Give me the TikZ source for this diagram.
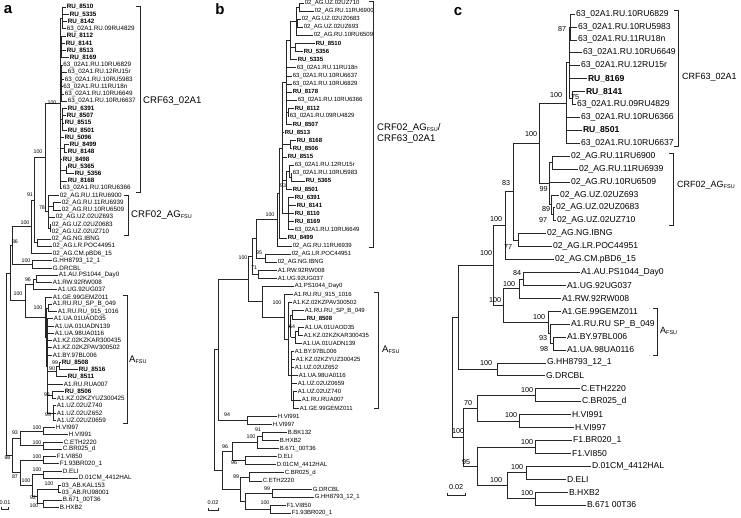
\documentclass[tikz,border=0pt]{standalone}
\usepackage{fontspec}
\setmainfont{Liberation Sans}
\newcommand\nd[3]{\draw[br] (#1,#2) -- (#1,#3);}
\newcommand\ch[3]{\draw[br] (#1,#3) -- (#2,#3);}
\newcommand\lf[5]{\draw[br] (#2,#4) -- (#3,#4); \node[leaf] (#1) at (#3,#4) {#5};}
\newcount\bsn
\newcommand\bsa[3]{\global\advance\bsn by 1\relax\node[bsla] (bs\the\bsn) at (#1,#2) {#3};}
\newcommand\bsc[3]{\global\advance\bsn by 1\relax\node[bslc] (bs\the\bsn) at (#1,#2) {#3};}
\newcommand\brk[3]{\draw[bk] (#1-4,#2) -- (#1,#2) -- (#1,#3) -- (#1-4,#3);}
\newcommand\fsu{\raisebox{-1.3pt}{\fontsize{5.5}{5}\selectfont FSU}}
\tikzset{
  br/.style={draw=black!85, line width=0.65pt},
  bk/.style={draw=black!85, line width=0.8pt},
  lfa/.style={anchor=west, inner sep=0pt, xshift=0.6pt, font=\fontsize{6.3}{6}\selectfont},
  lfb/.style={anchor=west, inner sep=0pt, xshift=0.6pt, font=\fontsize{6.0}{6}\selectfont},
  lfc/.style={anchor=west, inner sep=0pt, xshift=0.8pt, font=\fontsize{8.6}{9}\selectfont},
  bsla/.style={inner sep=0pt, font=\fontsize{5.3}{5}\selectfont},
  bslc/.style={inner sep=0pt, font=\fontsize{7.2}{7}\selectfont},
  cl/.style={anchor=west, inner sep=0pt, font=\fontsize{9.6}{11}\selectfont},
  pl/.style={inner sep=0pt, font=\fontsize{15}{15}\selectfont\bfseries},
  sb/.style={inner sep=0pt, font=\fontsize{5.5}{5}\selectfont}
}
\begin{document}
\begin{tikzpicture}[x=1pt,y=-1pt]
\path[use as bounding box] (0,0) rectangle (741,517);
\fill[white] (0,0) rectangle (741,517);

% ================= panel a =================
\begin{scope}[y={(0pt,-7.25pt)}, yshift=-7pt, leaf/.style={lfa}]
\lf{a0}{62}{66}{0}{\textbf{RU\_8510}}
\lf{a1}{62}{69}{1}{\textbf{RU\_5335}}
\lf{a2}{62}{67}{2}{\textbf{RU\_8142}}
\lf{a3}{62}{66}{3}{63\_02A1.RU.09RU4829}
\lf{a4}{61.5}{66}{4}{\textbf{RU\_8112}}
\lf{a5}{61.5}{65}{5}{\textbf{RU\_8141}}
\lf{a6}{61.5}{66}{6}{\textbf{RU\_8513}}
\lf{a7}{61.5}{69}{7}{\textbf{RU\_8169}}
\lf{a8}{61}{62.5}{8}{63\_02A1.RU.10RU6829}
\lf{a9}{61}{67}{9}{63\_02A1.RU.12RU15r}
\lf{a10}{61}{64}{10}{63\_02A1.RU.10RU5983}
\lf{a11}{61}{62.5}{11}{63\_02A1.RU.11RU18n}
\lf{a12}{61}{64}{12}{63\_02A1.RU.10RU6649}
\lf{a13}{61}{67}{13}{63\_02A1.RU.10RU6637}
\lf{a14}{62}{67}{14}{\textbf{RU\_6391}}
\lf{a15}{62}{66}{15}{\textbf{RU\_8507}}
\lf{a16}{62}{64}{16}{\textbf{RU\_8515}}
\lf{a17}{62}{67}{17}{\textbf{RU\_8501}}
\lf{a18}{60}{64}{18}{\textbf{RU\_5096}}
\lf{a19}{64}{69}{19}{\textbf{RU\_8499}}
\lf{a20}{64}{67}{20}{\textbf{RU\_8148}}
\lf{a21}{60}{62}{21}{\textbf{RU\_8498}}
\lf{a22}{66}{67}{22}{\textbf{RU\_5365}}
\lf{a23}{66}{74}{23}{\textbf{RU\_5356}}
\lf{a24}{60}{67}{24}{\textbf{RU\_8168}}
\lf{a25}{60}{62}{25}{63\_02A1.RU.10RU6366}
\lf{a26}{48}{59}{26}{02\_AG.RU.11RU6900}
\lf{a27}{53}{61}{27}{02\_AG.RU.11RU6939}
\lf{a28}{53}{61}{28}{02\_AG.RU.10RU6509}
\lf{a29}{48}{55}{29}{02\_AG.UZ.02UZ693}
\lf{a30}{50}{51}{30}{02\_AG.UZ.02UZ0683}
\lf{a31}{50}{51}{31}{02\_AG.UZ.02UZ710}
\lf{a32}{37}{51}{32}{02\_AG.NG.IBNG}
\lf{a33}{37}{52}{33}{02\_AG.LR.POC44951}
\lf{a34}{31}{52}{34}{02\_AG.CM.pBD6\_15}
\lf{a35}{32}{52}{35}{G.HH8793\_12\_1}
\lf{a36}{32}{52}{36}{G.DRCBL}
\lf{a37}{36}{58}{37}{A1.AU.PS1044\_Day0}
\lf{a38}{36}{52}{38}{A1.RW.92RW008}
\lf{a39}{33}{57}{39}{A1.UG.92UG037}
\lf{a40}{45}{52}{40}{A1.GE.99GEMZ011}
\lf{a41}{48}{52}{41}{A1.RU.RU\_SP\_B\_049}
\lf{a42}{48}{57}{42}{A1.RU.RU\_915\_1016}
\lf{a43}{47}{53}{43}{A1.UA.01UAOD35}
\lf{a44}{47}{54}{44}{A1.UA.01UADN139}
\lf{a45}{47}{54}{45}{A1.UA.98UA0116}
\lf{a46}{47}{52}{46}{A1.KZ.02KZKAR300435}
\lf{a47}{47}{52}{47}{A1.KZ.02KZPAV300502}
\lf{a48}{47}{52}{48}{A1.BY.97BL006}
\lf{a49}{59}{61}{49}{\textbf{RU\_8508}}
\lf{a50}{59}{78}{50}{\textbf{RU\_8516}}
\lf{a51}{56}{67}{51}{\textbf{RU\_8511}}
\lf{a52}{47}{63}{52}{A1.RU.RUA007}
\lf{a53}{52}{64}{53}{\textbf{RU\_8506}}
\lf{a54}{52}{56}{54}{A1.KZ.02KZYUZ300425}
\lf{a55}{53}{56}{55}{A1.UZ.02UZ740}
\lf{a56}{53}{56}{56}{A1.UZ.02UZ652}
\lf{a57}{53}{56}{57}{A1.UZ.02UZ0659}
\lf{a58}{43}{55}{58}{H.VI997}
\lf{a59}{43}{68}{59}{H.VI991}
\lf{a60}{43}{63}{60}{C.ETH2220}
\lf{a61}{43}{62}{61}{C.BR025\_d}
\lf{a62}{43}{56}{62}{F1.VI850}
\lf{a63}{43}{59}{63}{F1.93BR020\_1}
\lf{a64}{43}{62}{64}{D.ELI}
\lf{a65}{43}{78}{65}{D.01CM\_4412HAL}
\lf{a66}{58}{61}{66}{03\_AB.KAL153}
\lf{a67}{58}{61}{67}{03\_AB.RU98001}
\lf{a68}{43}{62}{68}{B.671\_00T36}
\lf{a69}{43}{59}{69}{B.HXB2}
% internal
\nd{62}{0}{3} \nd{61.5}{4}{7} \nd{61}{8}{13} \nd{62}{14}{17}
\nd{64}{19}{20} \nd{66}{22}{23}
\nd{60}{1.5}{25} \ch{60}{62}{1.5} \ch{60}{61.5}{5.5} \ch{60}{61}{10.5}
\ch{60}{62}{15.5} \ch{60}{64}{19.5} \ch{60}{66}{22.5}
\nd{53}{27}{28} \nd{50}{30}{31}
\nd{48}{26}{30.5} \ch{48}{53}{27.5} \ch{48}{50}{30.5}
\nd{45}{13.25}{28.25} \ch{45}{60}{13.25} \ch{45}{48}{28.25}
\nd{37}{32}{33}
\nd{34}{20.75}{32.5} \ch{34}{45}{20.75} \ch{34}{37}{32.5}
\nd{31}{26.625}{34} \ch{31}{34}{26.625}
\nd{32}{35}{36}
\nd{12}{30.31}{35.5} \ch{12}{31}{30.31} \ch{12}{32}{35.5}
\nd{36}{37}{38}
\nd{33}{37.5}{39} \ch{33}{36}{37.5}
\nd{48}{41}{42}
\nd{59}{49}{50}
\nd{56}{49.5}{51} \ch{56}{59}{49.5}
\nd{52}{53}{54}
\nd{53}{55}{57}
\nd{47}{43}{56} \ch{47}{56}{50.25} \ch{47}{52}{53.5} \ch{47}{53}{56}
\nd{46}{41.5}{49.5} \ch{46}{48}{41.5} \ch{46}{47}{49.5}
\nd{45}{40}{45.5} \ch{45}{46}{45.5}
\nd{25}{38.25}{42.75} \ch{25}{33}{38.25} \ch{25}{45}{42.75}
\nd{10}{32.9}{40.5} \ch{10}{12}{32.9} \ch{10}{25}{40.5}
\nd{43}{58}{59} \nd{43}{60}{61}
\nd{20}{58.5}{60.5} \ch{20}{43}{58.5} \ch{20}{43}{60.5}
\nd{43}{62}{63} \nd{43}{64}{65} \nd{58}{66}{67} \nd{43}{68}{69}
\nd{37}{66.5}{68.5} \ch{37}{58}{66.5} \ch{37}{43}{68.5}
\nd{32}{64.5}{67.5} \ch{32}{43}{64.5} \ch{32}{37}{67.5}
\nd{20}{62.5}{66} \ch{20}{43}{62.5} \ch{20}{32}{66}
\nd{12}{59.5}{64.25} \ch{12}{20}{59.5} \ch{12}{20}{64.25}
\nd{6}{36.7}{61.875} \ch{6}{10}{36.7} \ch{6}{12}{61.875}
\end{scope}
\bsa{52}{103}{100} \bsa{42}{208}{78} \bsa{38}{152}{100} \bsa{30}{195}{91}
\bsa{25}{223}{100} \bsa{15}{242}{86} \bsa{26}{261}{100} \bsa{28}{280}{96}
\bsa{18}{294}{100} \bsa{38}{308}{100} \bsa{55}{363}{99} \bsa{52}{369}{90}
\bsa{47}{395}{98} \bsa{48}{415}{99} \bsa{15}{433}{93} \bsa{37}{428}{100}
\bsa{37}{443}{100} \bsa{7.5}{458}{98} \bsa{37}{457}{100} \bsa{37}{470}{100}
\bsa{15}{477}{87} \bsa{26}{481}{100} \bsa{49}{484}{100} \bsa{33}{498}{92}
\bsa{34}{506}{100}
\brk{140}{6}{192} \node[cl] (a_crf63) at (143,101) {CRF63\_02A1};
\brk{128}{195}{235} \node[cl] (a_crf02) at (131,215) {CRF02\_AG\fsu};
\brk{127}{295}{423} \node[cl] (a_afsu) at (129,360) {A\fsu};
\draw[bk] (1,507) -- (1,509.5) -- (8,509.5) -- (8,507);
\node[sb] (a_sc) at (5,503) {0.01};
\node[pl] (lab_a) at (8,10) {a};

% ================= panel b =================
\begin{scope}[y={(0pt,-8.1pt)}, yshift=-3pt, leaf/.style={lfb}]
\lf{b0}{299}{304}{0}{02\_AG.UZ.02UZ710}
\lf{b1}{299}{314}{1}{02\_AG.RU.11RU6900}
\lf{b2}{297}{301}{2}{02\_AG.UZ.02UZ0683}
\lf{b3}{297}{303}{3}{02\_AG.UZ.02UZ693}
\lf{b4}{296}{313}{4}{02\_AG.RU.10RU6509}
\lf{b5}{295}{315}{5}{\textbf{RU\_8510}}
\lf{b6}{295}{303}{6}{\textbf{RU\_5356}}
\lf{b7}{290}{297}{7}{\textbf{RU\_5335}}
\lf{b8}{286}{296}{8}{63\_02A1.RU.11RU18n}
\lf{b9}{286}{292}{9}{63\_02A1.RU.10RU6637}
\lf{b10}{286}{292}{10}{63\_02A1.RU.10RU6829}
\lf{b11}{286}{292}{11}{\textbf{RU\_8178}}
\lf{b12}{286}{297}{12}{63\_02A1.RU.10RU6366}
\lf{b13}{288}{294}{13}{\textbf{RU\_8112}}
\lf{b14}{288}{289}{14}{63\_02A1.RU.09RU4829}
\lf{b15}{286}{292}{15}{\textbf{RU\_8507}}
\lf{b16}{282}{284}{16}{\textbf{RU\_8513}}
\lf{b17}{290}{296}{17}{\textbf{RU\_8168}}
\lf{b18}{290}{292}{18}{\textbf{RU\_8506}}
\lf{b19}{282}{287}{19}{\textbf{RU\_8515}}
\lf{b20}{289}{294}{20}{63\_02A1.RU.12RU15r}
\lf{b21}{291}{292}{21}{63\_02A1.RU.10RU5983}
\lf{b22}{291}{305}{22}{\textbf{RU\_5365}}
\lf{b23}{286}{292}{23}{\textbf{RU\_8501}}
\lf{b24}{288}{294}{24}{\textbf{RU\_6391}}
\lf{b25}{288}{296}{25}{\textbf{RU\_8141}}
\lf{b26}{288}{294}{26}{\textbf{RU\_8110}}
\lf{b27}{288}{294}{27}{\textbf{RU\_8169}}
\lf{b28}{288}{294}{28}{63\_02A1.RU.10RU6649}
\lf{b29}{279}{287}{29}{\textbf{RU\_8499}}
\lf{b30}{277}{292}{30}{02\_AG.RU.11RU6939}
\lf{b31}{265}{291}{31}{02\_AG.LR.POC44951}
\lf{b32}{265}{277}{32}{02\_AG.NG.IBNG}
\lf{b33}{258}{277}{33}{A1.RW.92RW008}
\lf{b34}{258}{277}{34}{A1.UG.92UG037}
\lf{b35}{262}{294}{35}{A1.PS1044\_Day0}
\lf{b36}{284}{293}{36}{A1.RU.RU\_915\_1016}
\lf{b37}{288}{292}{37}{A1.KZ.02KZPAV300502}
\lf{b38}{292}{304}{38}{A1.RU.RU\_SP\_B\_049}
\lf{b39}{292}{306}{39}{\textbf{RU\_8508}}
\lf{b40}{298}{304}{40}{A1.UA.01UAOD35}
\lf{b41}{298}{303}{41}{A1.KZ.02KZKAR300435}
\lf{b42}{295}{302}{42}{A1.UA.01UADN139}
\lf{b43}{291}{294}{43}{A1.BY.97BL006}
\lf{b44}{291}{295}{44}{A1.KZ.02KZYUZ300425}
\lf{b45}{291}{294}{45}{A1.UZ.02UZ652}
\lf{b46}{291}{298}{46}{A1.UA.98UA0116}
\lf{b47}{291}{297}{47}{A1.UZ.02UZ0659}
\lf{b48}{293}{297}{48}{A1.UZ.02UZ740}
\lf{b49}{293}{301}{49}{A1.RU.RUA007}
\lf{b50}{293}{299}{50}{A1.GE.99GEMZ011}
\lf{b51}{247}{277}{51}{H.VI991}
\lf{b52}{247}{272}{52}{H.VI997}
\lf{b53}{262}{287}{53}{B.BK132}
\lf{b54}{262}{279}{54}{B.HXB2}
\lf{b55}{257}{279}{55}{B.671\_00T36}
\lf{b56}{245}{277}{56}{D.ELI}
\lf{b57}{245}{276}{57}{D.01CM\_4412HAL}
\lf{b58}{249}{284}{58}{C.BR025\_d}
\lf{b59}{249}{262}{59}{C.ETH2220}
\lf{b60}{272}{312}{60}{G.DRCBL}
\lf{b61}{272}{314}{61}{G.HH8793\_12\_1}
\lf{b62}{270}{286}{62}{F1.VI850}
\lf{b63}{270}{291}{63}{F1.93BR020\_1}
% internal
\nd{299}{0}{1} \nd{297}{2}{3}
\nd{296}{0.5}{4} \ch{296}{299}{0.5} \ch{296}{297}{2.5}
\nd{295}{5}{6}
\nd{290}{2.25}{7} \ch{290}{296}{2.25} \ch{290}{295}{5.5}
\nd{288}{13}{14}
\nd{286}{4.625}{15} \ch{286}{290}{4.625} \ch{286}{288}{13.5}
\nd{290}{17}{18} \nd{291}{21}{22}
\nd{289}{20}{21.5} \ch{289}{291}{21.5}
\nd{286}{20.75}{23} \ch{286}{289}{20.75}
\nd{288}{24}{28}
\nd{282}{9.8125}{26} \ch{282}{286}{9.8125} \ch{282}{290}{17.5} \ch{282}{286}{21.875} \ch{282}{288}{26}
\nd{279}{17.9}{29} \ch{279}{282}{17.9}
\nd{277}{23.45}{30} \ch{277}{279}{23.45}
\nd{265}{31}{32}
\nd{256}{26.725}{31.5} \ch{256}{277}{26.725} \ch{256}{265}{31.5}
\nd{258}{33}{34}
\nd{252}{29.11}{33.5} \ch{252}{256}{29.11} \ch{252}{258}{33.5}
\nd{292}{38}{39} \nd{298}{40}{41}
\nd{295}{40.5}{42} \ch{295}{298}{40.5}
\nd{290.5}{38.5}{41.25} \ch{290.5}{292}{38.5} \ch{290.5}{295}{41.25}
\nd{293}{48}{50}
\nd{291}{43}{49} \ch{291}{293}{49}
\nd{288}{37}{46} \ch{288}{290.5}{39.875} \ch{288}{291}{46}
\nd{284}{36}{41.5} \ch{284}{288}{41.5}
\nd{262}{35}{38.75} \ch{262}{284}{38.75}
\nd{248}{31.3}{36.875} \ch{248}{252}{31.3} \ch{248}{262}{36.875}
\nd{247}{51}{52}
\nd{218}{34.09}{51.5} \ch{218}{248}{34.09} \ch{218}{247}{51.5}
\nd{262}{53}{54}
\nd{257}{53.5}{55} \ch{257}{262}{53.5}
\nd{245}{56}{57}
\nd{232}{54.25}{56.5} \ch{232}{257}{54.25} \ch{232}{245}{56.5}
\nd{249}{58}{59} \nd{272}{60}{61} \nd{270}{62}{63}
\nd{245}{60.5}{62.5} \ch{245}{272}{60.5} \ch{245}{270}{62.5}
\nd{240}{58.5}{61.5} \ch{240}{249}{58.5} \ch{240}{245}{61.5}
\nd{222}{55.375}{60} \ch{222}{232}{55.375} \ch{222}{240}{60}
\nd{214}{42.8}{57.69} \ch{214}{218}{42.8} \ch{214}{222}{57.69}
\end{scope}
\bsa{270}{215}{100} \bsa{283}{186}{93} \bsa{259}{253}{95} \bsa{243}{258}{100}
\bsa{254}{268}{71} \bsa{277}{303}{100} \bsa{292}{327}{64} \bsa{227}{415}{94}
\bsa{258}{430}{91} \bsa{251}{437}{100} \bsa{225}{447}{96} \bsa{234}{463}{96}
\bsa{236}{477}{99} \bsa{267}{488.5}{99} \bsa{265}{503}{100}
\brk{373}{1}{247}
\node[cl, align=left] (b_crf) at (377,133) {CRF02\_AG\fsu/\\CRF63\_02A1};
\brk{378}{292}{408} \node[cl] (b_afsu) at (382,350) {A\fsu};
\draw[bk] (208,508) -- (208,510.5) -- (218,510.5) -- (218,508);
\node[sb] (b_sc) at (213,503) {0.02};
\node[pl] (lab_b) at (220,9) {b};

% ================= panel c =================
\begin{scope}[y={(0pt,-12.92pt)}, yshift=-14pt, leaf/.style={lfc}]
\lf{c0}{570}{575}{0}{63\_02A1.RU.10RU6829}
\lf{c1}{570}{577}{1}{63\_02A1.RU.10RU5983}
\lf{c2}{570}{577}{2}{63\_02A1.RU.11RU18n}
\lf{c3}{569}{582}{3}{63\_02A1.RU.10RU6649}
\lf{c4}{569}{580}{4}{63\_02A1.RU.12RU15r}
\lf{c5}{569}{587}{5}{\textbf{RU\_8169}}
\lf{c6}{572}{585}{6}{\textbf{RU\_8141}}
\lf{c7}{572}{576}{7}{63\_02A1.RU.09RU4829}
\lf{c8}{566}{580}{8}{63\_02A1.RU.10RU6366}
\lf{c9}{566}{582}{9}{\textbf{RU\_8501}}
\lf{c10}{566}{580}{10}{63\_02A1.RU.10RU6637}
\lf{c11}{552}{570}{11}{02\_AG.RU.11RU6900}
\lf{c12}{552}{578}{12}{02\_AG.RU.11RU6939}
\lf{c13}{549}{570}{13}{02\_AG.RU.10RU6509}
\lf{c14}{551}{559}{14}{02\_AG.UZ.02UZ693}
\lf{c15}{553}{555}{15}{02\_AG.UZ.02UZ0683}
\lf{c16}{553}{556}{16}{02\_AG.UZ.02UZ710}
\lf{c17}{518}{546}{17}{02\_AG.NG.IBNG}
\lf{c18}{518}{552}{18}{02\_AG.LR.POC44951}
\lf{c19}{505}{554}{19}{02\_AG.CM.pBD6\_15}
\lf{c20}{523}{580}{20}{A1.AU.PS1044\_Day0}
\lf{c21}{523}{566}{21}{A1.UG.92UG037}
\lf{c22}{519}{561}{22}{A1.RW.92RW008}
\lf{c23}{548}{561}{23}{A1.GE.99GEMZ011}
\lf{c24}{550}{570}{24}{A1.RU.RU SP\_B\_049}
\lf{c25}{553}{566}{25}{A1.BY.97BL006}
\lf{c26}{553}{566}{26}{A1.UA.98UA0116}
\lf{c27}{497}{546}{27}{G.HH8793\_12\_1}
\lf{c28}{497}{545}{28}{G.DRCBL}
\lf{c29}{535}{580}{29}{C.ETH2220}
\lf{c30}{535}{581}{30}{C.BR025\_d}
\lf{c31}{519}{571}{31}{H.VI991}
\lf{c32}{519}{574}{32}{H.VI997}
\lf{c33}{535}{572}{33}{F1.BR020\_1}
\lf{c34}{535}{571}{34}{F1.VI850}
\lf{c35}{526}{591}{35}{D.01CM\_4412HAL}
\lf{c36}{526}{566}{36}{D.ELI}
\lf{c37}{535}{568}{37}{B.HXB2}
\lf{c38}{535}{586}{38}{B.671 00T36}
% internal
\nd{570}{0}{2}
\nd{572}{6}{7}
\nd{569}{1}{6.5} \ch{569}{570}{1} \ch{569}{572}{6.5}
\nd{566}{3.75}{10} \ch{566}{569}{3.75}
\nd{552}{11}{12}
\nd{553}{15}{16}
\nd{551}{14}{15.5} \ch{551}{553}{15.5}
\nd{549}{11.5}{14.75} \ch{549}{552}{11.5} \ch{549}{551}{14.75}
\nd{539}{6.875}{13.125} \ch{539}{566}{6.875} \ch{539}{549}{13.125}
\nd{518}{17}{18}
\nd{513}{10}{17.5} \ch{513}{539}{10} \ch{513}{518}{17.5}
\nd{505}{13.75}{19} \ch{505}{513}{13.75}
\nd{523}{20}{21}
\nd{519}{20.5}{22} \ch{519}{523}{20.5}
\nd{553}{25}{26}
\nd{550}{24}{25.5} \ch{550}{553}{25.5}
\nd{548}{23}{24.75} \ch{548}{550}{24.75}
\nd{503}{21.25}{23.875} \ch{503}{519}{21.25} \ch{503}{548}{23.875}
\nd{493}{16.375}{22.5625} \ch{493}{505}{16.375} \ch{493}{503}{22.5625}
\nd{497}{27}{28}
\nd{458}{19.47}{27.5} \ch{458}{493}{19.47} \ch{458}{497}{27.5}
\nd{535}{29}{30} \nd{519}{31}{32}
\nd{477}{29.5}{31.5} \ch{477}{535}{29.5} \ch{477}{519}{31.5}
\nd{535}{33}{34} \nd{526}{35}{36} \nd{535}{37}{38}
\nd{507}{35.5}{37.5} \ch{507}{526}{35.5} \ch{507}{535}{37.5}
\nd{477}{33.5}{36.5} \ch{477}{535}{33.5} \ch{477}{507}{36.5}
\nd{463}{30.5}{35} \ch{463}{477}{30.5} \ch{463}{477}{35}
\nd{452}{23.485}{32.75} \ch{452}{458}{23.485} \ch{452}{463}{32.75}
\end{scope}
\bsc{562}{29}{87} \bsc{556}{95}{100} \bsc{575}{97}{75} \bsc{531}{134}{100}
\bsc{506}{183}{83} \bsc{543.5}{189.5}{99} \bsc{546}{209}{89} \bsc{543}{220}{97}
\bsc{508}{247}{77} \bsc{496}{219}{100} \bsc{517}{273}{84} \bsc{509}{284}{100}
\bsc{495}{300}{100} \bsc{539}{317}{100} \bsc{543}{338}{93} \bsc{544}{349}{98}
\bsc{486}{253}{100} \bsc{486}{363}{100} \bsc{527}{390}{100} \bsc{468}{403}{70}
\bsc{458}{431}{100} \bsc{511}{415}{100} \bsc{527}{442}{100} \bsc{466}{462}{95}
\bsc{517}{467}{100} \bsc{496}{480}{100} \bsc{527}{493}{100}
\brk{678}{10}{146} \node[cl, font=\fontsize{9}{10}\selectfont] (c_crf63) at (682,77) {CRF63\_02A1};
\brk{673}{153}{225} \node[cl, font=\fontsize{9}{10}\selectfont] (c_crf02) at (677,185) {CRF02\_AG\fsu};
\brk{657}{308}{355} \node[cl, font=\fontsize{9}{10}\selectfont] (c_afsu) at (660,331) {A\fsu};
\draw[bk] (447,493) -- (447,495.5) -- (465,495.5) -- (465,493);
\node[bslc] (c_sc) at (456,487) {0.02};
\node[pl] (lab_c) at (458,12) {c};
\end{tikzpicture}
\end{document}
